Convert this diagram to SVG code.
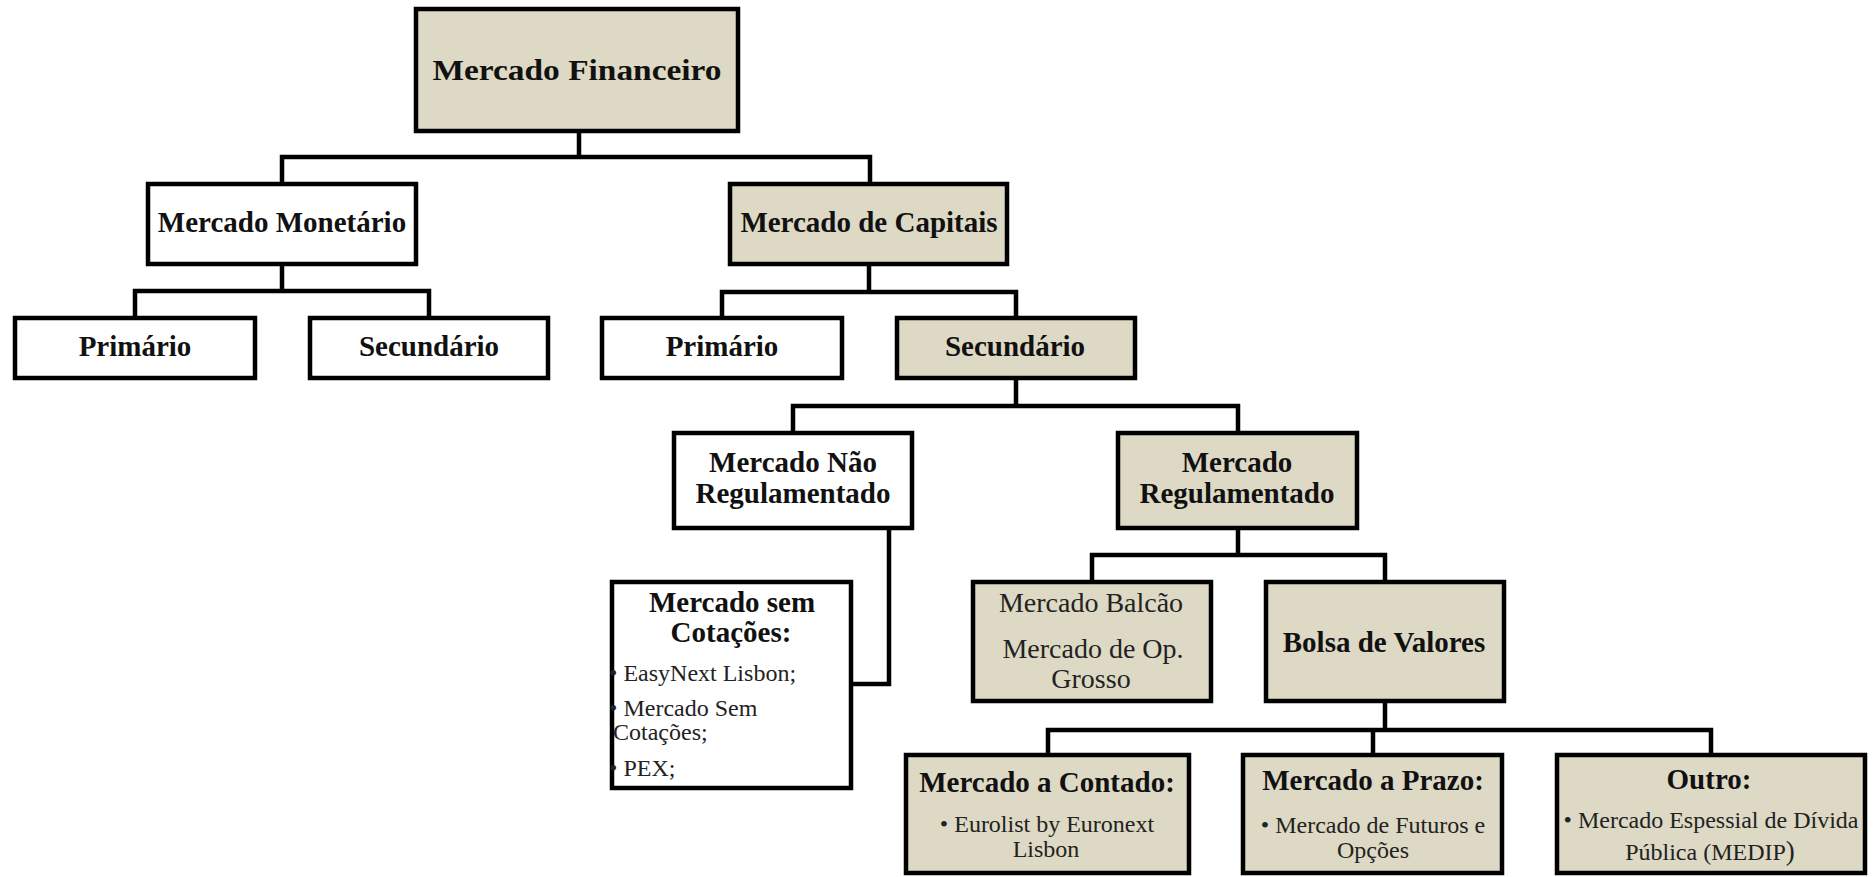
<svg xmlns="http://www.w3.org/2000/svg" width="1874" height="877" viewBox="0 0 1874 877">
<style>
.box{stroke:#000;stroke-width:4.5;}
.tan{fill:#DDD9C4;}
.wht{fill:#fff;}
.con{fill:none;stroke:#000;stroke-width:4.5;stroke-linecap:square;stroke-linejoin:miter;}
.b{font-family:"Liberation Serif","Times New Roman",serif;font-weight:bold;font-size:29px;fill:#111;text-anchor:middle;}
.r{font-family:"Liberation Serif","Times New Roman",serif;font-size:28px;fill:#222;text-anchor:middle;}
.s{font-family:"Liberation Serif","Times New Roman",serif;font-size:24px;fill:#222;}
.sm{text-anchor:middle;}
</style>
<rect width="1874" height="877" fill="#fff"/>
<g id="connectors">
<path class="con" d="M579,133V157M282,157H870M282,157V182M870,157V182"/>
<path class="con" d="M282,266V291M135,291H429M135,291V316M429,291V316"/>
<path class="con" d="M869,266V292M722,292H1016M722,292V316M1016,292V316"/>
<path class="con" d="M1016,380V406M793,406H1238M793,406V431M1238,406V431"/>
<path class="con" d="M889,530V684H853"/>
<path class="con" d="M1238,530V555M1092,555H1385M1092,555V580M1385,555V580"/>
<path class="con" d="M1385,703V730M1048,730H1711M1048,730V753M1373,730V753M1711,730V753"/>
</g>
<g id="mercado-financeiro">
<rect class="box tan" x="416" y="9" width="322" height="122"/>
<text class="b" x="577" y="80" font-size="32" textLength="289" lengthAdjust="spacingAndGlyphs">Mercado  Financeiro</text>
</g>
<g id="mercado-monetario">
<rect class="box wht" x="148" y="184" width="268" height="80"/>
<text class="b" x="282" y="232">Mercado Monetário</text>
</g>
<g id="primario-monetario">
<rect class="box wht" x="15" y="318" width="240" height="60"/>
<text class="b" x="135" y="356">Primário</text>
</g>
<g id="secundario-monetario">
<rect class="box wht" x="310" y="318" width="238" height="60"/>
<text class="b" x="429" y="356">Secundário</text>
</g>
<g id="mercado-capitais">
<rect class="box tan" x="730" y="184" width="277" height="80"/>
<text class="b" x="869" y="232">Mercado de Capitais</text>
</g>
<g id="primario-capitais">
<rect class="box wht" x="602" y="318" width="240" height="60"/>
<text class="b" x="722" y="356">Primário</text>
</g>
<g id="secundario-capitais">
<rect class="box tan" x="897" y="318" width="238" height="60"/>
<text class="b" x="1015" y="356">Secundário</text>
</g>
<g id="mercado-nao-regulamentado">
<rect class="box wht" x="674" y="433" width="238" height="95"/>
<text class="b" x="793" y="472">Mercado Não</text>
<text class="b" x="793" y="503">Regulamentado</text>
</g>
<g id="mercado-regulamentado">
<rect class="box tan" x="1118" y="433" width="239" height="95"/>
<text class="b" x="1237" y="472">Mercado</text>
<text class="b" x="1237" y="503">Regulamentado</text>
</g>
<g id="mercado-sem-cotacoes">
<rect class="box wht" x="612" y="582" width="239" height="206"/>
<text class="b" x="732" y="612">Mercado sem</text>
<text class="b" x="731" y="642">Cotações:</text>
<text class="s" x="609" y="681">• EasyNext Lisbon;</text>
<text class="s" x="609" y="716">• Mercado Sem</text>
<text class="s" x="613" y="740">Cotações;</text>
<text class="s" x="609" y="776">• PEX;</text>
</g>
<g id="mercado-balcao">
<rect class="box tan" x="973" y="582" width="238" height="119"/>
<text class="r" x="1091" y="612">Mercado Balcão</text>
<text class="r" x="1093" y="658">Mercado de Op.</text>
<text class="r" x="1091" y="688">Grosso</text>
</g>
<g id="bolsa-de-valores">
<rect class="box tan" x="1266" y="582" width="238" height="119"/>
<text class="b" x="1384" y="652" font-size="32">Bolsa de Valores</text>
</g>
<g id="mercado-a-contado">
<rect class="box tan" x="906" y="755" width="283" height="118"/>
<text class="b" x="1047" y="792" font-size="28.5">Mercado a Contado:</text>
<text class="s sm" x="1047" y="832">• Eurolist by Euronext</text>
<text class="s sm" x="1046" y="857">Lisbon</text>
</g>
<g id="mercado-a-prazo">
<rect class="box tan" x="1243" y="755" width="259" height="118"/>
<text class="b" x="1373" y="790" font-size="28.5">Mercado a Prazo:</text>
<text class="s sm" x="1373" y="833">• Mercado de Futuros e</text>
<text class="s sm" x="1373" y="858">Opções</text>
</g>
<g id="outro">
<rect class="box tan" x="1557" y="755" width="308" height="118"/>
<text class="b" x="1709" y="789" font-size="28">Outro:</text>
<text class="s sm" x="1711" y="828" font-size="25">• Mercado Espessial de Dívida</text>
<text class="s sm" x="1710" y="860">Pública (MEDIP<tspan font-size="27">)</tspan></text>
</g>
</svg>
